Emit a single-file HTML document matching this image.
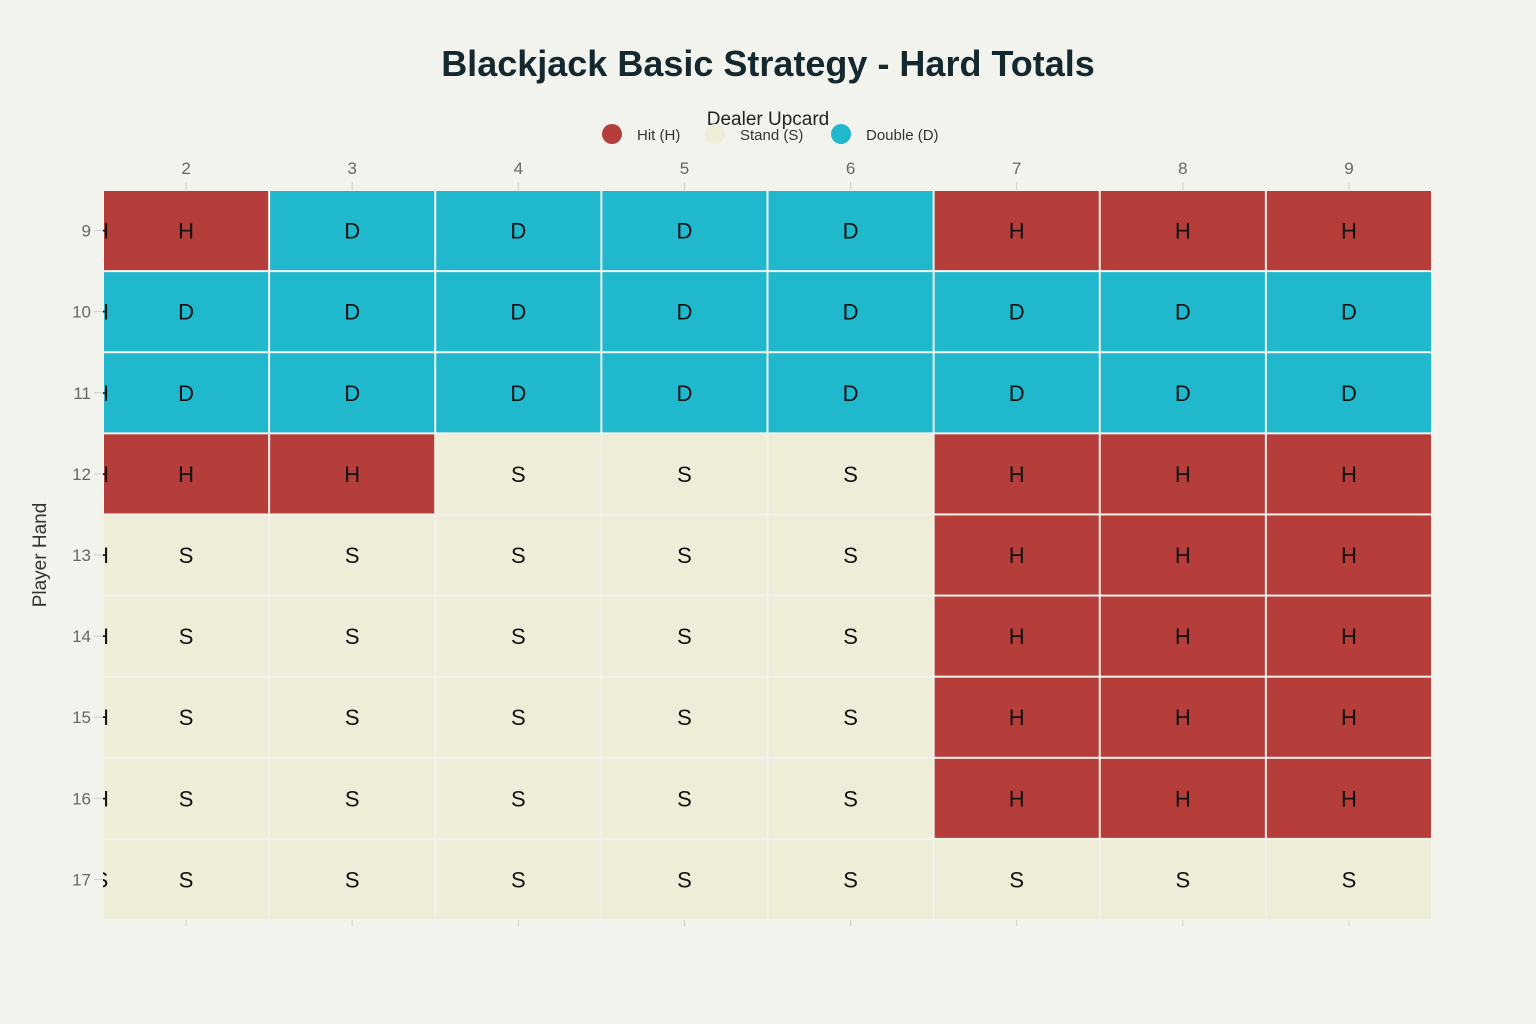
<!DOCTYPE html>
<html><head><meta charset="utf-8"><style>
html,body{margin:0;padding:0;background:#f3f3ee;}
svg{display:block;font-family:"Liberation Sans",sans-serif;}
</style></head><body>
<svg id="chart" width="1536" height="1024" viewBox="0 0 1536 1024">
<rect width="1536" height="1024" fill="#f3f3ee"/>
<text x="768" y="76" text-anchor="middle" font-size="36" font-weight="bold" fill="#13282f">Blackjack Basic Strategy - Hard Totals</text>
<text x="768" y="125" text-anchor="middle" font-size="19" fill="#222">Dealer Upcard</text>
<g>
<circle cx="612" cy="134" r="10" fill="#b53e3b"/>
<text x="637" y="140" font-size="15" fill="#333">Hit (H)</text>
<circle cx="715" cy="134" r="10" fill="#ededd8"/>
<text x="740" y="140" font-size="15" fill="#333">Stand (S)</text>
<circle cx="841" cy="134" r="10" fill="#20b8cd"/>
<text x="866" y="140" font-size="15" fill="#333">Double (D)</text>
</g>
<text transform="translate(46,555) rotate(-90)" text-anchor="middle" font-size="19" fill="#333">Player Hand</text>
<defs><clipPath id="edgeclip"><rect x="103" y="0" width="20" height="1024"/></clipPath></defs>
<g id="cells"></g>
</svg>
<script>
const dealerCards = ['2','3','4','5','6','7','8','9'];
const playerHands = ['9','10','11','12','13','14','15','16','17'];
const actions = [
 ['H','D','D','D','D','H','H','H'],
 ['D','D','D','D','D','D','D','D'],
 ['D','D','D','D','D','D','D','D'],
 ['H','H','S','S','S','H','H','H'],
 ['S','S','S','S','S','H','H','H'],
 ['S','S','S','S','S','H','H','H'],
 ['S','S','S','S','S','H','H','H'],
 ['S','S','S','S','S','H','H','H'],
 ['S','S','S','S','S','S','S','S']
];
const edgeLabels = ['H','H','H','H','H','H','H','H','S'];

const NS='http://www.w3.org/2000/svg';
const x0=103,x1=1432,y0=190,y1=920;
const cw=(x1-x0)/dealerCards.length, ch=(y1-y0)/playerHands.length;
const xPos=i=>x0+i*cw, yPos=j=>y0+j*ch;
const colors={H:'#b53e3b',S:'#ededd8',D:'#20b8cd'};
const g=document.getElementById('cells');
function mk(tag,attrs){const e=document.createElementNS(NS,tag);for(const k in attrs)e.setAttribute(k,attrs[k]);return e;}
const svg=document.getElementById('chart');
// ticks and labels
dealerCards.forEach((c,i)=>{
  const cx=xPos(i)+cw/2;
  const t=mk('text',{x:cx,y:174,'text-anchor':'middle','font-size':17,fill:'#666'});
  t.textContent=c;
  
  
  svg.appendChild(t);
  [[182,190],[920,926]].forEach(([a,b])=>{
    const l=mk('line',{x1:cx,x2:cx,y1:a,y2:b,stroke:'#ccc','stroke-width':1});
    
    
    svg.appendChild(l);
  });
});
playerHands.forEach((p,j)=>{
  const cy=yPos(j)+ch/2;
  const t=mk('text',{x:91,y:cy+6,'text-anchor':'end','font-size':17,fill:'#666'});
  t.textContent=p;
  
  
  svg.appendChild(t);
  const l=mk('line',{x1:94,x2:103,y1:cy,y2:cy,stroke:'#ccc','stroke-width':1});
  
  
  svg.appendChild(l);
});
actions.forEach((row,j)=>{
  row.forEach((a,i)=>{
    const r=mk('rect',{x:xPos(i)+1,y:yPos(j)+1,width:cw-2,height:ch-2,fill:colors[a]});
    
    
    g.appendChild(r);
    const t=mk('text',{x:xPos(i)+cw/2,y:yPos(j)+ch/2+8,'text-anchor':'middle','font-size':22,fill:'#111'});
    t.textContent=a;
    
    
    g.appendChild(t);
  });
  const e=mk('text',{x:101,y:yPos(j)+ch/2+8,'text-anchor':'middle','font-size':22,fill:'#111','clip-path':'url(#edgeclip)'});
  e.textContent=edgeLabels[j];
  
  
  g.appendChild(e);
});
</script>
</body></html>
